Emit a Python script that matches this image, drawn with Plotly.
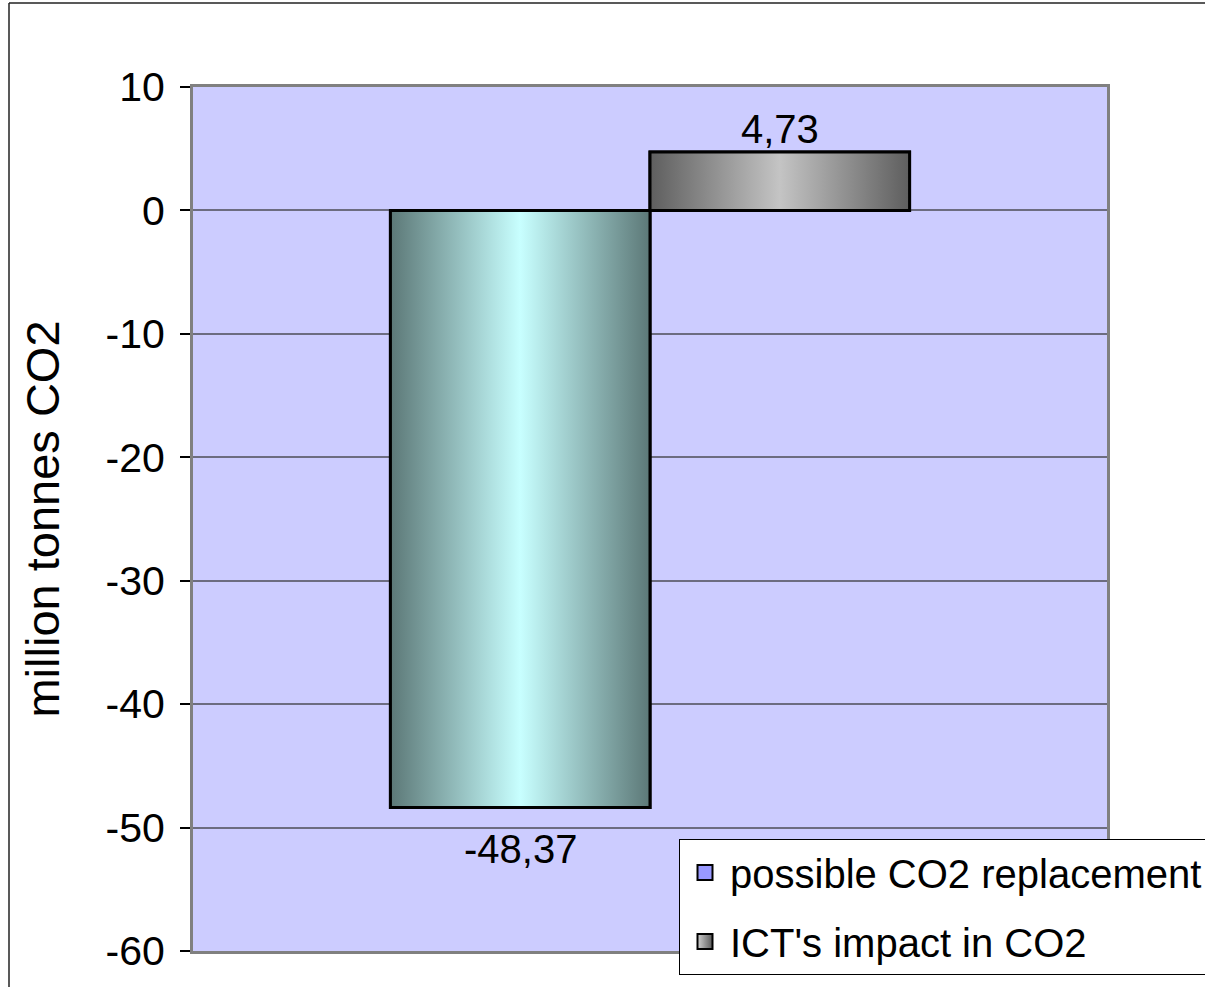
import plotly.graph_objects as go

# Series values (million tonnes CO2)
series_names = ["possible CO2 replacement", "ICT's impact in CO2"]
series_values = [-48.37, 4.73]

# Axis settings
y_ticks = [10, 0, -10, -20, -30, -40, -50, -60]
y_title = "million tonnes CO2"

# Styling
legend_colors = ["#9999FF", "#9C9C9C"]
gradient_stops = [
    [[0.0, "#5C7877"], [0.5, "#C8FFFF"], [1.0, "#5C7877"]],
    [[0.0, "#5E5E5E"], [0.5, "#C4C4C4"], [1.0, "#5E5E5E"]],
]
bar_width = 0.284
bar_centers = [-bar_width / 2, bar_width / 2]

W, H = 1205, 987
M = dict(l=193, r=98, t=87, b=36, autoexpand=False)
FONT = "Liberation Sans, Arial, sans-serif"

fig = go.Figure()

# Bars drawn from the series values
for i, (name, val) in enumerate(zip(series_names, series_values)):
    fig.add_trace(go.Bar(
        x=[bar_centers[i]], y=[val], width=bar_width, name=name,
        marker=dict(color=legend_colors[i], line=dict(color="black", width=3)),
        showlegend=False, hoverinfo="skip",
    ))

# Gradient faces drawn over each bar from the same values
for i, val in enumerate(series_values):
    x0 = bar_centers[i] - bar_width / 2
    x1 = bar_centers[i] + bar_width / 2
    fig.add_trace(go.Scatter(
        x=[x0, x1, x1, x0, x0], y=[0, 0, val, val, 0],
        mode="lines", fill="toself",
        fillgradient=dict(type="horizontal", colorscale=gradient_stops[i]),
        line=dict(color="black", width=3),
        showlegend=False, hoverinfo="skip",
    ))

# Legend keys: square swatches
legend_grad = [None, dict(type="horizontal", color="#5A5A5A")]
for i, name in enumerate(series_names):
    mk = dict(symbol="square", size=15, color=legend_colors[i],
              line=dict(color="black", width=2))
    if legend_grad[i]:
        mk["gradient"] = legend_grad[i]
        mk["color"] = "#D0D0D0"
    fig.add_trace(go.Scatter(
        x=[None], y=[None], mode="markers", name=name, marker=mk,
        legendgroup=f"g{i}", hoverinfo="skip",
    ))

# Value labels with decimal comma
for i, val in enumerate(series_values):
    label = f"{val:.2f}".replace(".", ",")
    fig.add_annotation(
        x=bar_centers[i], y=val, text=label, showarrow=False,
        xref="x", yref="y",
        yanchor="bottom" if val >= 0 else "top",
        yshift=-1 if val >= 0 else -18,
        font=dict(family=FONT, size=40, color="black"),
    )

# Outer frame: top and left edges (the rest runs off the page)
px_x = lambda p: (p - M["l"]) / (W - M["l"] - M["r"])
px_y = lambda p: (H - M["b"] - p) / (H - M["t"] - M["b"])
frame = dict(color="#222222", width=1.5)
fig.add_shape(type="line", xref="paper", yref="paper",
              x0=px_x(9), y0=px_y(3), x1=px_x(W), y1=px_y(3),
              line=frame, layer="below")
fig.add_shape(type="line", xref="paper", yref="paper",
              x0=px_x(9), y0=px_y(3), x1=px_x(9), y1=px_y(H),
              line=frame, layer="below")

fig.update_layout(
    width=W, height=H, margin=M,
    paper_bgcolor="white", plot_bgcolor="#CCCCFF",
    barmode="overlay",
    font=dict(family=FONT, color="black"),
    showlegend=True,
    legend=dict(
        x=px_x(679), y=px_y(839), xanchor="left", yanchor="top",
        bgcolor="white", bordercolor="black", borderwidth=1,
        font=dict(family=FONT, size=40, color="black"),
        traceorder="grouped", tracegroupgap=14, itemwidth=40,
        itemsizing="trace",
    ),
)

fig.update_xaxes(
    range=[-0.5, 0.5], showticklabels=False, showgrid=False, zeroline=False,
    showline=True, linecolor="#808080", linewidth=3, mirror=True, ticks="",
)
fig.update_yaxes(
    range=[-60, 10], tickvals=y_ticks, ticktext=[str(t) for t in y_ticks],
    ticks="outside", ticklen=10, tickwidth=1.5, tickcolor="black",
    tickfont=dict(family=FONT, size=41, color="black"),
    ticklabelstandoff=7,
    showgrid=True, gridcolor="#6C6C80", gridwidth=1.5,
    zeroline=True, zerolinecolor="#6C6C80", zerolinewidth=1.5,
    showline=True, linecolor="#808080", linewidth=3, mirror=True,
    title=dict(text=y_title, font=dict(family=FONT, size=47, color="black"),
               standoff=32),
)

fig.write_html("out.html")
